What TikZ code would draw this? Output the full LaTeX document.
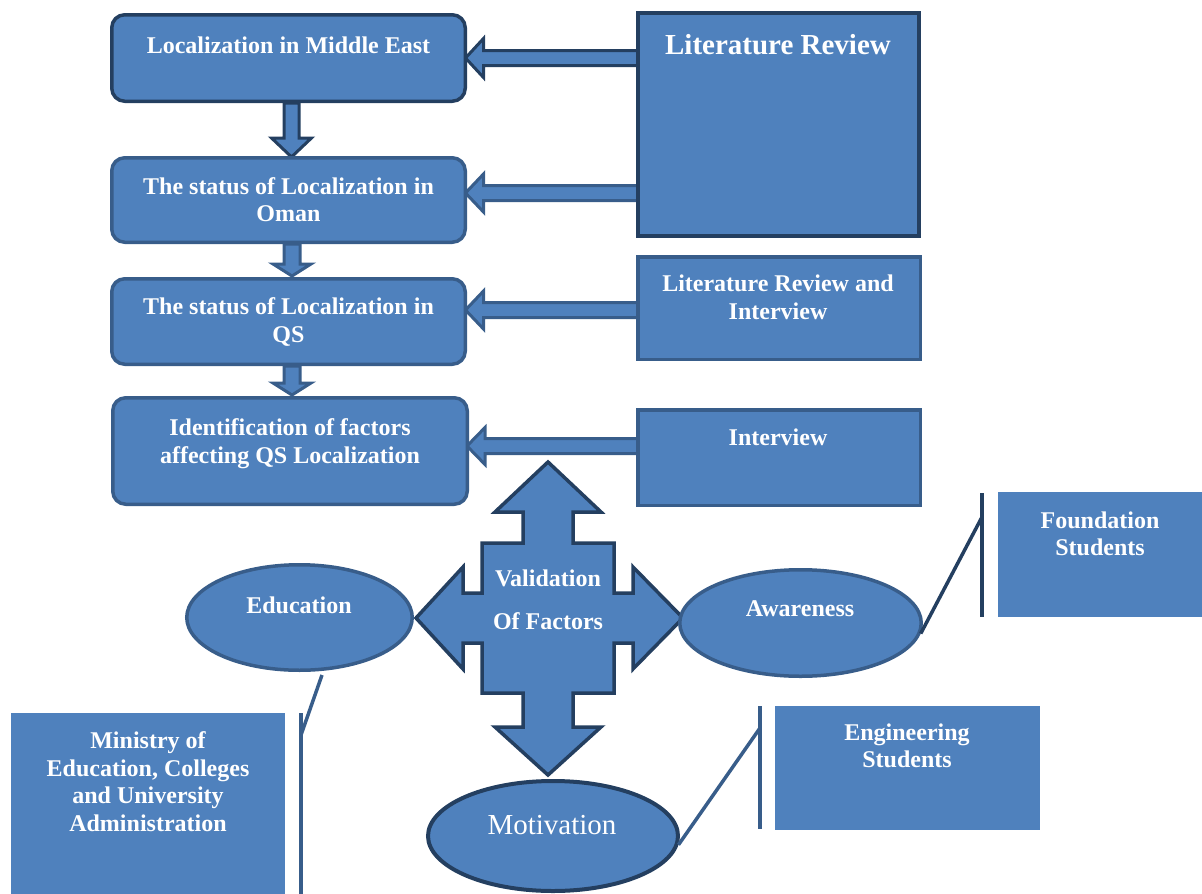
\documentclass[tikz,border=0pt]{standalone}
\usepackage{fontspec}
\setmainfont{Liberation Serif}
\usetikzlibrary{shapes.geometric,calc}
\definecolor{fillb}{HTML}{4F81BD}
\definecolor{darkb}{HTML}{243F60}
\definecolor{medb}{HTML}{385D8A}
\newcommand\leftblock[6]{% #1 start (right), #2 tip (left), #3 shaft half, #4 head half, #5 head length, #6 colour
  \draw[barrow, draw=#6] ($(#2)+(#5,-#3)$) -- ($(#1)+(0,-#3)$) -- ($(#1)+(0,#3)$) -- ($(#2)+(#5,#3)$)
    -- ($(#2)+(#5,#4)$) -- (#2) -- ($(#2)+(#5,-#4)$) -- cycle;}
\newcommand\downblock[6]{% #1 start (top), #2 tip (bottom), #3 shaft half, #4 head half, #5 head length, #6 colour
  \draw[barrow, draw=#6] ($(#1)+(-#3,0)$) -- ($(#2)+(-#3,-#5)$) -- ($(#2)+(-#4,-#5)$) -- (#2)
    -- ($(#2)+(#4,-#5)$) -- ($(#2)+(#3,-#5)$) -- ($(#1)+(#3,0)$) -- cycle;}
\begin{document}
\begin{tikzpicture}[x=1pt,y=-1pt,
  rbox/.style={draw, fill=fillb, line width=3.5pt, rounded corners=13pt, inner sep=0pt},
  sbox/.style={draw, fill=fillb, line width=3.5pt, inner sep=0pt},
  pbox/.style={fill=fillb, inner sep=0pt},
  txt/.style={text=white, font=\fontsize{24}{27.5}\selectfont\bfseries, align=center, inner sep=0pt},
  bigtxt/.style={text=white, font=\fontsize{29}{33}\selectfont\bfseries, align=center, inner sep=0pt},
  regtxt/.style={text=white, font=\fontsize{29}{33}\selectfont, align=center, inner sep=0pt},
  ell/.style={ellipse, draw, fill=fillb, line width=3.5pt, inner sep=0pt},
  barrow/.style={fill=fillb, line width=3pt, line join=miter},
  callout/.style={line width=3.5pt}
]
\useasboundingbox (0,0) rectangle (1202,894);

% ---- coordinates for arrow positions
\coordinate (b1s) at (291.5,103);
\coordinate (b2n) at (291.5,157);
\coordinate (b2s) at (292,244);
\coordinate (b3n) at (292,276);
\coordinate (b3s) at (292,366);
\coordinate (b4n) at (292,395);

\coordinate (t1) at (465.5,58);
\coordinate (t2) at (465.5,193);
\coordinate (t3) at (465.5,310);
\coordinate (t4) at (467,446);
\coordinate (s1) at (640,58);
\coordinate (s2) at (640,193);
\coordinate (s3) at (640,310);
\coordinate (s4) at (640,446);

% ---- block arrows (drawn first, boxes cover their ends)
\leftblock{s1}{t1}{7.5}{19.5}{18}{darkb}
\leftblock{s2}{t2}{7.5}{19}{18}{medb}
\leftblock{s3}{t3}{7.5}{19}{18}{medb}
\leftblock{s4}{t4}{7.5}{18.5}{18}{medb}
\downblock{b1s}{b2n}{7.5}{20}{19}{darkb}
\downblock{b2s}{b3n}{8}{19}{12}{medb}
\downblock{b3s}{b4n}{8}{19}{12}{medb}

% ---- left column boxes
\node[rbox, draw=darkb, minimum width=353.5, minimum height=86.5] (b1) at (288.5,58) {};
\node[rbox, draw=medb, minimum width=353.5, minimum height=84.5] (b2) at (288.5,200) {};
\node[rbox, draw=medb, minimum width=353.5, minimum height=85.5] (b3) at (288.5,321.5) {};
\node[rbox, draw=medb, minimum width=354.5, minimum height=106.5] (b4) at (290,451) {};
\node[txt] (b1t) at (288.5,45) {Localization in Middle East};
\node[txt] (b2t) at (288.5,199.5) {The status of Localization in\\Oman};
\node[txt] (b3t) at (288.5,322) {The status of Localization in\\QS};
\node[txt] (b4t) at (290,443.5) {Identification of factors\\affecting QS Localization};

% ---- right column boxes
\node[sbox, draw=darkb, line width=4pt, minimum width=281, minimum height=223] (lr) at (778.5,124.5) {};
\node[sbox, draw=medb, minimum width=282.5, minimum height=102.5] (lri) at (779,308) {};
\node[sbox, draw=medb, minimum width=282.5, minimum height=95.5] (iv) at (779,457.5) {};
\node[bigtxt] (lrt) at (778,45) {Literature Review};
\node[txt] (lrit) at (778,297.5) {Literature Review and\\Interview};
\node[txt] (ivt) at (778,437) {Interview};

% ---- validation cross
\draw[barrow, draw=darkb, line width=3.5pt]
  (548,462) -- (601,512) -- (573,512) -- (573,543) -- (614,543) -- (614,593) -- (633,593) -- (633,567)
  -- (683,618) -- (633,669) -- (633,643) -- (614,643) -- (614,693) -- (573,693) -- (573,727) -- (601,727)
  -- (548,775) -- (495,727) -- (523,727) -- (523,693) -- (482,693) -- (482,643) -- (463,643) -- (463,669)
  -- (416,618) -- (463,567) -- (463,593) -- (482,593) -- (482,543) -- (523,543) -- (523,512) -- (495,512) -- cycle;
\node[txt] (val1) at (548,578) {Validation};
\node[txt] (val2) at (548,621) {Of Factors};

% ---- ellipses
\node[ell, draw=medb, minimum width=225.5, minimum height=105.5] (edu) at (299.5,617.5) {};
\node[ell, draw=medb, minimum width=241.5, minimum height=106.5] (aw) at (800.5,623) {};
\node[ell, draw=darkb, line width=4pt, minimum width=250, minimum height=110] (mot) at (553,836) {};
\node[txt] (edut) at (299,605) {Education};
\node[txt] (awt) at (800,609) {Awareness};
\node[regtxt] (mott) at (552,825) {Motivation};

% ---- callout boxes
\node[pbox, minimum width=204, minimum height=125] (fs) at (1100,554.5) {};
\node[pbox, minimum width=265, minimum height=124] (es) at (907.5,768) {};
\node[pbox, minimum width=274, minimum height=190] (mi) at (148,808) {};
\node[txt] (fst) at (1100,534) {Foundation\\Students};
\node[txt] (est) at (907,746) {Engineering\\Students};
\node[txt] (mit) at (148,781.5) {Ministry of\\Education, Colleges\\and University\\Administration};

% ---- callout lines
\coordinate (fa) at (982,493);
\coordinate (fb) at (982,617);
\coordinate (fk) at (982,517);
\draw[callout, draw=darkb] (fa) -- (fb);
\draw[callout, draw=darkb] (aw.-5) -- (fk);

\coordinate (ea) at (760,706);
\coordinate (eb) at (760,829);
\coordinate (ek) at (760,728);
\draw[callout, draw=medb] (ea) -- (eb);
\draw[callout, draw=medb] (mot.-4) -- (ek);

\coordinate (ma) at (301,713);
\coordinate (mb) at (301,900);
\coordinate (mk) at (301,735);
\coordinate (me) at (322,675);
\draw[callout, draw=medb] (ma) -- (mb);
\draw[callout, draw=medb] (me) -- (mk);
\end{tikzpicture}
\end{document}
